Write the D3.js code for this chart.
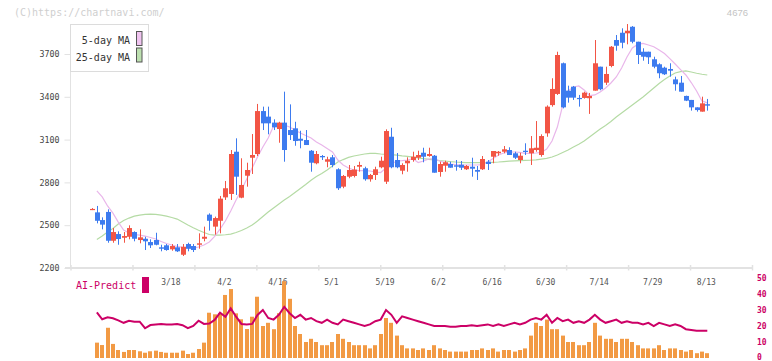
<!DOCTYPE html>
<html>
<head>
<meta charset="utf-8">
<script src="https://cdn.jsdelivr.net/npm/d3@7"></script>
<style>
  body { margin: 0; background: #fff; }
  svg { display: block; font-family: "DejaVu Sans Mono", monospace; }
</style>
</head>
<body>
<svg id="chart" width="772" height="361"></svg>
<script>
// daily candles, 2/25 .. 8/13 (index 0..115)
const opens = [
  2610,2590,2536,2593,2391,2438,2412,2419,2452,2396,
  2405,2382,2396,2345,2359,2331,2345,2293,2368,2354,
  2363,2405,2574,2490,2531,2695,2719,3015,2693,2847,
  2973,2999,3300,3261,3219,3174,3219,3167,3179,3106,
  3097,3022,2934,2985,2945,2976,2892,2770,2840,2845,
  2910,2899,2822,2852,2906,2805,3120,2957,2882,2934,
  2957,2973,3008,2985,2987,2873,2917,2929,2920,2924,
  2892,2910,2887,2892,2945,2980,3004,3015,3027,3004,
  2957,3022,3004,3027,2992,3144,3342,3420,3635,3443,
  3471,3392,3392,3390,3443,3611,3499,3616,3798,3849,
  3845,3891,3786,3716,3716,3663,3628,3604,3595,3522,
  3499,3406,3378,3326,3296,3348
];
const highs = [
  2620,2635,2555,2611,2480,2457,2452,2499,2457,2471,
  2419,2401,2447,2363,2368,2368,2368,2368,2377,2368,
  2443,2490,2583,2560,2705,2810,3027,3109,2969,2938,
  3139,3350,3331,3331,3242,3225,3436,3347,3225,3162,
  3167,3027,3020,2992,2980,2992,2899,2852,2922,2915,
  2945,2910,2859,2910,2980,3172,3183,3006,2934,2976,
  3015,3022,3043,3043,2992,2945,2952,2945,2957,2950,
  2922,2973,2915,2985,2957,3020,3020,3055,3046,3015,
  3008,3074,3125,3230,3137,3340,3530,3716,3640,3478,
  3476,3413,3436,3427,3798,3611,3611,3756,3833,3880,
  3910,3896,3786,3740,3716,3681,3635,3611,3635,3541,
  3546,3408,3378,3326,3401,3385
];
const lows = [
  2606,2513,2471,2377,2377,2363,2377,2401,2387,2373,
  2326,2340,2359,2317,2321,2321,2312,2284,2317,2312,
  2335,2387,2462,2434,2443,2677,2677,2712,2689,2770,
  2859,2985,3167,3137,3167,3078,2945,3097,3057,3039,
  3062,2875,2927,2957,2906,2906,2747,2759,2829,2835,
  2875,2812,2805,2817,2899,2789,2899,2899,2857,2875,
  2945,2957,2941,2980,2868,2840,2875,2903,2882,2887,
  2887,2840,2817,2887,2887,2934,2987,3004,2992,2964,
  2934,2992,2922,3015,2980,3120,3331,3413,3319,3359,
  3378,3331,3387,3280,3443,3446,3483,3607,3723,3740,
  3768,3775,3630,3653,3630,3600,3530,3553,3541,3443,
  3436,3370,3303,3296,3296,3303
];
const closes = [
  2614,2531,2504,2391,2452,2403,2424,2480,2405,2415,
  2387,2359,2363,2335,2326,2354,2317,2349,2335,2326,
  2373,2419,2531,2550,2686,2759,2999,2840,2782,2887,
  2992,3300,3214,3214,3186,3219,3027,3132,3090,3092,
  3062,2938,2999,2976,2962,2922,2759,2845,2887,2890,
  2922,2822,2852,2892,2952,3160,2906,2906,2922,2952,
  2980,2992,2980,2999,2868,2929,2941,2903,2910,2903,
  2915,2896,2875,2964,2929,3020,3015,3032,2992,2973,
  2987,3013,3039,3043,3125,3331,3455,3693,3326,3394,
  3394,3387,3429,3406,3635,3453,3560,3751,3758,3779,
  3863,3786,3693,3681,3677,3611,3565,3558,3583,3488,
  3436,3373,3326,3307,3354,3338
];
const ma5 = [
  null,2740,2698,2635,2585,2522,2466,2445,2435,2431,
  2424,2414,2403,2386,2372,2361,2351,2344,2340,2340,
  2347,2361,2382,2421,2473,2529,2600,2677,2747,2824,
  2901,2978,3048,3111,3195,3216,3202,3188,3167,3146,
  3129,3111,3083,3062,3038,3013,2957,2922,2901,2887,
  2883,2882,2880,2873,2869,2901,2929,2950,2953,2957,
  2967,2939,2950,2964,2967,2950,2939,2929,2925,2922,
  2922,2922,2922,2925,2943,2967,2992,3006,3013,3013,
  3010,3004,3004,3006,3010,3034,3090,3188,3342,3441,
  3469,3476,3448,3409,3413,3434,3462,3497,3539,3602,
  3679,3742,3767,3774,3763,3751,3728,3703,3668,3630,
  3591,3553,3500,3441,3371,3357
];
const ma25 = [
  null,2400,2424,2452,2477,2508,2533,2550,2564,2571,
  2576,2578,2576,2571,2564,2554,2543,2522,2501,2482,
  2465,2449,2435,2431,2431,2433,2438,2449,2463,2480,
  2501,2529,2561,2592,2621,2649,2677,2701,2729,2757,
  2785,2815,2841,2862,2887,2915,2943,2960,2975,2985,
  2992,2999,3004,3003,2999,2997,2994,2991,2986,2982,
  2977,2971,2966,2962,2957,2953,2950,2946,2943,2941,
  2939,2938,2938,2938,2938,2941,2943,2946,2949,2951,
  2953,2955,2956,2958,2963,2968,2978,2992,3010,3027,
  3048,3067,3090,3118,3146,3174,3199,3227,3258,3286,
  3314,3342,3371,3399,3430,3462,3493,3521,3546,3567,
  3577,3581,3574,3565,3558,3553
];
const volume = [
  null,9.6,8.1,18.9,8.8,5,3.8,5,5,4.2,
  3.3,4.2,4.6,3.8,3.3,3.3,3.3,4.6,2.5,3.3,
  5.6,9.6,28.3,27.3,28,39.4,43.1,27.9,24.2,18.1,
  25.8,38.3,20,22,18,28,48,37,20,15,
  10,12,10,8,8,10,15,12,10,8,
  8,8,6,8,15,25,22,14,8,6,
  6,5,6,5,8,6,5,4,4,4,
  4,5,5,6,5,6,4,5,5,4,
  5,6,14,22,20,24,18,18,14,10,
  10,8,8,10,22,14,12,12,10,12,
  12,10,8,6,6,6,8,5,6,6,
  5,4,5,3,4,3
];
const aiPredict = [
  null,28.5,24.2,25.4,24.8,23.5,22,23.3,22.7,22.7,
  18.6,20.6,21,21.3,21,21,21.3,20.5,18.6,20,
  23.3,21.3,21.5,23.8,28.3,25.8,31,25.8,21.3,21,
  21.3,26.9,30,25,24,27,32,28,25,27,
  24,25,23,22,24,22,21,24,23,22,
  21,20,21,23,24,30,27,22,26,25,
  24,23,22,21,20,20,20,19.5,19.5,20,
  20,20.5,20,20.5,21,20,21,20,21,22,
  21,22,24,25,24,27,22,25,23,24,
  22,23,22,24,27,24,22,23,24,22,
  23,22,22,21,22,20,22,21,20,21,
  20,18,17.5,17,17,17
];
const dateLabels = ['3/18','4/2','4/16','5/1','5/19','6/2','6/16','6/30','7/14','7/29','8/13'];
const dateLabelIdx = [15,25,35,45,55,65,75,85,95,105,115];
const priceTicks = [2200,2500,2800,3100,3400,3700];
const subTicks = [0,10,20,30,40,50];

const svg = d3.select('#chart');
const up = '#f25545', down = '#3d7bef';

const x = d3.scaleLinear().domain([0, 115]).range([91.5, 707.3]);
const y = d3.scaleLinear().domain([2200, 3700]).range([268, 54]);
const yv = d3.scaleLinear().domain([0, 50]).range([358, 278]);
const tickPos = d3.scaleLinear().domain([0, 11]).range([70.5, 752]);

svg.append('text')
  .attr('x', 14).attr('y', 16)
  .attr('font-size', 10).attr('fill', '#cfcfcf')
  .text('(C)https://chartnavi.com/');
svg.append('text')
  .attr('x', 748).attr('y', 16)
  .attr('text-anchor', 'end')
  .attr('font-family', 'Liberation Sans, sans-serif')
  .attr('font-size', 9.5).attr('fill', '#c4c4c4')
  .text('4676');

// axes
const yAxis = svg.append('g')
  .attr('transform', 'translate(70.5,0)')
  .call(d3.axisLeft(y).tickValues(priceTicks).tickFormat(d3.format('d')).tickSize(6).tickPadding(5));
yAxis.select('.domain').attr('d', 'M0,24V268').attr('stroke', '#e2e2e2');
yAxis.selectAll('.tick line').attr('stroke', '#e2e2e2');
yAxis.selectAll('.tick text')
  .attr('font-family', 'DejaVu Sans Mono, monospace')
  .attr('font-size', 8.3).attr('fill', '#444');

const xAxis = svg.append('g')
  .attr('transform', 'translate(0,268)')
  .call(d3.axisBottom(tickPos).ticks(11).tickSize(3).tickFormat(''));
xAxis.select('.domain').attr('d', 'M65,0H752').attr('stroke', '#e2e2e2').attr('stroke-width', 2);
xAxis.selectAll('.tick line').attr('y1', -3).attr('y2', 2.5).attr('stroke', '#e2e2e2').attr('stroke-width', 1.5);

svg.append('g').selectAll('text')
  .data(dateLabels)
  .enter()
  .append('text')
  .attr('x', (d, i) => x(dateLabelIdx[i]) - 1)
  .attr('y', 285)
  .attr('text-anchor', 'middle')
  .attr('font-size', 8).attr('fill', '#555')
  .text(d => d);

// moving averages
const maLine = arr => d3.line()
  .defined(d => d != null)
  .x((d, i) => x(i))
  .y(d => y(d))(arr);

svg.append('path')
  .attr('d', maLine(ma25))
  .attr('fill', 'none').attr('stroke', '#b5dba5').attr('stroke-width', 1.2);
svg.append('path')
  .attr('d', maLine(ma5))
  .attr('fill', 'none').attr('stroke', '#e9b6ea').attr('stroke-width', 1.2);

// candles
const idx = d3.range(opens.length);
const candles = svg.append('g').selectAll('g')
  .data(idx)
  .enter()
  .append('g')
  .attr('fill', i => closes[i] >= opens[i] ? up : down)
  .attr('stroke', i => closes[i] >= opens[i] ? up : down);

candles.append('line')
  .attr('x1', i => Math.round(x(i)) + 0.5)
  .attr('x2', i => Math.round(x(i)) + 0.5)
  .attr('y1', i => y(highs[i]))
  .attr('y2', i => y(lows[i]))
  .attr('stroke-width', 1);

candles.append('rect')
  .attr('x', i => Math.round(x(i)) - 2)
  .attr('width', 5)
  .attr('y', i => y(Math.max(opens[i], closes[i])))
  .attr('height', i => Math.max(1.2, Math.abs(y(opens[i]) - y(closes[i]))))
  .attr('stroke', 'none');

// legend
const legend = svg.append('g');
legend.append('rect')
  .attr('x', 70.5).attr('y', 24.5).attr('width', 78).attr('height', 47)
  .attr('fill', '#fff').attr('stroke', '#dcdcdc');
legend.selectAll('text')
  .data(['5-day MA', '25-day MA'])
  .enter()
  .append('text')
  .attr('x', 130).attr('y', (d, i) => 44 + i * 16.5)
  .attr('text-anchor', 'end')
  .attr('font-size', 10).attr('fill', '#333')
  .text(d => d);
legend.selectAll('rect.sw')
  .data(['#f0c4f0', '#bde0b0'])
  .enter()
  .append('rect')
  .attr('class', 'sw')
  .attr('x', 136.5).attr('y', (d, i) => 31.5 + i * 16.5)
  .attr('width', 5.5).attr('height', 14)
  .attr('fill', d => d).attr('stroke', '#555');

// lower panel
svg.append('g').selectAll('rect')
  .data(idx.filter(i => volume[i] != null))
  .enter()
  .append('rect')
  .attr('x', i => Math.round(x(i)) - 2)
  .attr('width', 4)
  .attr('y', i => yv(volume[i]))
  .attr('height', i => yv(0) - yv(volume[i]))
  .attr('fill', '#f29a44');

svg.append('path')
  .attr('d', d3.line()
    .defined(d => d != null)
    .x((d, i) => x(i))
    .y(d => yv(d))(aiPredict))
  .attr('fill', 'none').attr('stroke', '#cc0066').attr('stroke-width', 2);

svg.append('text')
  .attr('x', 76).attr('y', 289)
  .attr('font-size', 10).attr('fill', '#cc0066')
  .text('AI-Predict');
svg.append('rect')
  .attr('x', 142).attr('y', 277).attr('width', 7).attr('height', 16)
  .attr('fill', '#cc0066');

svg.append('g').selectAll('text')
  .data(subTicks)
  .enter()
  .append('text')
  .attr('x', 757).attr('y', d => Math.min(yv(d) + 2.5, 359.5))
  .attr('font-size', 8).attr('font-weight', 'bold').attr('fill', '#cc0066')
  .text(d => d);
</script>
</body>
</html>
